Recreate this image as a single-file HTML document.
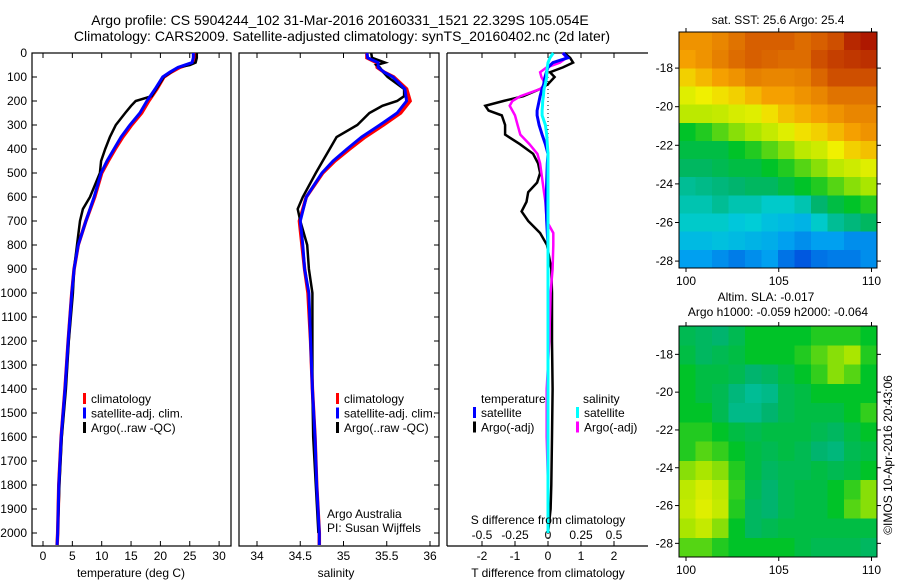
<!DOCTYPE html>
<html><head><meta charset="utf-8">
<style>
html,body{margin:0;padding:0;background:#fff;}
svg{display:block;font-family:"Liberation Sans",sans-serif;}
text{fill:#000;}
</style></head>
<body>
<svg id="c" width="900" height="580" viewBox="0 0 900 580" xmlns="http://www.w3.org/2000/svg">
<text x="340" y="25" font-size="14" text-anchor="middle">Argo profile: CS 5904244_102 31-Mar-2016 20160331_1521 22.329S 105.054E</text>
<text x="342" y="41" font-size="14" text-anchor="middle">Climatology: CARS2009. Satellite-adjusted climatology: synTS_20160402.nc (2d later)</text>
<text x="778" y="24" font-size="12" text-anchor="middle">sat. SST: 25.6 Argo: 25.4</text>
<text x="766" y="301" font-size="12" text-anchor="middle">Altim. SLA: -0.017</text>
<text x="778" y="316" font-size="12" text-anchor="middle">Argo h1000: -0.059 h2000: -0.064</text>
<text transform="translate(892,455) rotate(-90)" font-size="12" text-anchor="middle">©IMOS 10-Apr-2016 20:43:06</text>
<g id="g"></g>
</svg>
<script>
// ---- profile data ----
const depthClim = [0,20,40,60,80,100,150,200,250,300,350,400,450,500,600,700,800,900,1000,1200,1400,1600,1800,2000,2050];
const tempClim  = [25.9,25.9,25.6,23.3,21.8,20.6,19.4,18.0,16.8,15.1,13.6,12.3,11.1,10.0,8.8,7.3,6.0,5.3,4.9,4.3,3.75,3.1,2.7,2.5,2.4];
const tempSat   = [25.6,25.6,25.4,23.0,21.6,20.4,19.1,17.7,16.5,14.8,13.3,12.1,10.9,9.9,8.7,7.3,6.0,5.3,4.9,4.3,3.75,3.1,2.7,2.5,2.4];
const salClim   = [35.27,35.27,35.38,35.39,35.47,35.58,35.73,35.77,35.66,35.46,35.25,35.07,34.90,34.76,34.57,34.49,34.52,34.55,34.59,34.62,34.64,34.67,34.69,34.72,34.72];
const salSat    = [35.27,35.28,35.40,35.40,35.47,35.57,35.71,35.73,35.62,35.42,35.21,35.04,34.88,34.75,34.57,34.50,34.53,34.55,34.60,34.62,34.64,34.67,34.69,34.72,34.72];
const depthArgo = [0,20,40,50,60,80,100,150,180,200,220,250,300,350,400,450,500,600,650,700,800,900,1000,1200,1400,1600,1800,2000];
const tempArgo  = [26.2,26.2,26.0,25.0,23.0,21.8,20.6,19.3,18.5,15.8,15.0,14.0,12.4,11.4,10.6,9.9,9.7,8.0,6.8,6.3,5.8,5.3,5.1,4.4,3.9,3.2,2.8,2.5];
const salArgo   = [35.32,35.33,35.48,35.38,35.42,35.46,35.51,35.70,35.70,35.62,35.45,35.30,35.16,34.92,34.84,34.76,34.68,34.53,34.47,34.50,34.58,34.60,34.64,34.64,34.64,34.65,34.68,34.71];
// ---- difference data ----
const depthDiff = [0,20,40,60,80,100,130,150,180,200,220,240,260,300,340,380,420,460,500,540,580,620,660,700,750,800,900,1000,1200,1400,1600,1800,1900,2000];
const dTArgo = [0.5,0.67,0.76,0.45,0.06,0.2,0,-0.24,-0.75,-1.35,-1.9,-1.8,-1.4,-1.3,-1.3,-0.85,-0.45,-0.3,-0.24,-0.33,-0.6,-0.65,-0.8,-0.6,-0.24,-0.03,0.1,0.12,0.12,0.14,0.12,0.1,0.08,0.0];
const dSArgo = [0.11,0.14,0.09,-0.01,-0.06,-0.05,-0.02,-0.06,-0.21,-0.27,-0.29,-0.27,-0.25,-0.23,-0.21,-0.14,-0.08,-0.06,-0.05,-0.04,-0.03,-0.02,-0.015,-0.01,0.04,0.04,0.035,0.02,0.01,-0.01,-0.01,0.0,0.0,0.0];
const dTSat  = [0.45,0.6,0.15,0,-0.05,-0.09,-0.13,-0.18,-0.24,-0.27,-0.3,-0.33,-0.33,-0.27,-0.18,-0.08,0,-0.02,-0.03,-0.04,-0.05,-0.06,-0.05,-0.04,-0.02,0,0,0,0,0,0,0,0,0];
const dSSat  = [0.04,0.015,0.0,-0.005,-0.01,-0.01,-0.02,-0.03,-0.035,-0.04,-0.042,-0.045,-0.045,-0.02,-0.01,-0.005,0,0,0,0,0,0,0,0,0,0,0,0,0,0,0,0,0,0];
// ---- tick labels ----
const depthTicks = [0,100,200,300,400,500,600,700,800,900,1000,1100,1200,1300,1400,1500,1600,1700,1800,1900,2000];
const tempTicks = [0,5,10,15,20,25,30];
const salTicks = [34,34.5,35,35.5,36];
const dTTicks = [-2,-1,0,1,2];
const dSTicks = [-0.5,-0.25,0,0.25,0.5];
const dSLabels = ["-0.5","-0.25","0","0.25","0.5"];
const latTicks = [-18,-20,-22,-24,-26,-28];
const lonTicks = [100,105,110];
// ---- map data (colour index 0..1) ----
const sstGrid = [
[.80,.80,.82,.85,.88,.88,.88,.86,.88,.90,.95,.97],
[.78,.80,.83,.86,.88,.87,.86,.86,.90,.92,.93,.94],
[.72,.75,.78,.80,.83,.82,.82,.83,.87,.90,.90,.90],
[.66,.68,.70,.72,.75,.78,.78,.80,.82,.85,.85,.85],
[.62,.62,.63,.65,.66,.70,.74,.76,.78,.80,.82,.82],
[.50,.52,.55,.58,.60,.63,.66,.70,.72,.75,.78,.80],
[.48,.48,.48,.50,.52,.55,.58,.62,.64,.68,.72,.74],
[.46,.46,.47,.48,.48,.50,.52,.55,.58,.62,.64,.66],
[.42,.43,.44,.45,.46,.46,.48,.50,.52,.55,.58,.60],
[.40,.40,.42,.40,.40,.38,.38,.40,.45,.48,.50,.52],
[.38,.38,.38,.36,.37,.35,.34,.33,.38,.42,.44,.46],
[.34,.34,.35,.34,.33,.32,.30,.28,.30,.30,.28,.28],
[.30,.30,.28,.26,.28,.30,.25,.22,.25,.26,.26,.28]];
const slaGrid = [
[.47,.46,.45,.47,.50,.50,.50,.50,.52,.52,.52,.50],
[.48,.46,.47,.48,.50,.50,.50,.52,.55,.58,.60,.52],
[.50,.48,.48,.47,.45,.46,.48,.50,.53,.58,.55,.50],
[.50,.48,.47,.44,.42,.43,.47,.48,.50,.50,.50,.50],
[.50,.50,.47,.43,.43,.45,.47,.48,.48,.48,.50,.53],
[.52,.52,.50,.48,.47,.48,.48,.48,.47,.46,.48,.50],
[.52,.55,.53,.50,.48,.47,.48,.47,.45,.44,.47,.48],
[.58,.60,.58,.52,.48,.46,.47,.47,.48,.47,.48,.50],
[.62,.65,.62,.53,.47,.45,.47,.48,.48,.50,.53,.58],
[.63,.66,.63,.52,.46,.45,.47,.48,.48,.50,.55,.58],
[.60,.63,.58,.50,.46,.47,.48,.48,.48,.48,.48,.48],
[.55,.55,.52,.50,.50,.50,.50,.48,.47,.47,.47,.46]];

const NS="http://www.w3.org/2000/svg";
const G=document.getElementById('g');
function mk(tag,attrs,parent){const e=document.createElementNS(NS,tag);for(const k in attrs)e.setAttribute(k,attrs[k]);(parent||G).appendChild(e);return e;}
function txt(x,y,s,anchor,size,parent){const t=mk('text',{x:x,y:y,'font-size':size||12,'text-anchor':anchor||'start'},parent);t.textContent=s;return t;}

const Y0=53,YS=0.24;
const yD=d=>Y0+d*YS;
const xT=v=>43+v*5.87;
const xS=v=>257+(v-34)*86.5;
const xDT=v=>548+v*33;
const xDS=v=>548+v*132;

function frame(x0,x1,name){
  const r=mk('rect',{x:x0,y:Y0,width:x1-x0,height:546-Y0,fill:'none',stroke:'#000','stroke-width':1.2});
  
  
}
function line(xs,ds,fx,color,w,name){
  const p=xs.map((v,i)=>fx(v).toFixed(1)+','+yD(ds[i]).toFixed(1)).join(' ');
  const e=mk('polyline',{points:p,fill:'none',stroke:color,'stroke-width':w,'stroke-linejoin':'miter'});
  
  
}
function xticks(ticks,fx,labels,ly){
  ticks.forEach((t,i)=>{const x=fx(t);
    mk('line',{x1:x,x2:x,y1:546,y2:541,stroke:'#000'});
    mk('line',{x1:x,x2:x,y1:Y0,y2:Y0+5,stroke:'#000'});
    if(labels){const l=txt(x,ly,labels[i],'middle',12);
      
      }
  });
}
function legend(x,y,items){
  items.forEach((it,i)=>{
    mk('rect',{x:x,y:y+i*14.5-10,width:3,height:11,fill:it[1]});
    const t=txt(x+8,y+i*14.5,it[0],'start',12);
    
    
  });
}

// panel 1
frame(32,231,'temperature-panel');
depthTicks.forEach(d=>{mk('line',{x1:32,x2:37,y1:yD(d),y2:yD(d),stroke:'#000'});
  const l=txt(27,yD(d)+4,String(d),'end',12);
  
  });
xticks(tempTicks,xT,tempTicks.map(String),560);
line(tempClim,depthClim,xT,'#f00',3.5,'temp-climatology-line');
line(tempArgo,depthArgo,xT,'#000',2.5,'temp-argo-line');
line(tempSat,depthClim,xT,'#00f',3,'temp-satellite-line');
txt(131,577,'temperature (deg C)','middle',12);
legend(83,403,[['climatology','#f00'],['satellite-adj. clim.','#00f'],['Argo(..raw -QC)','#000']]);

// panel 2
frame(239,439,'salinity-panel');
depthTicks.forEach(d=>{mk('line',{x1:439,x2:434,y1:yD(d),y2:yD(d),stroke:'#000'});});
xticks(salTicks,xS,salTicks.map(String),560);
line(salClim,depthClim,xS,'#f00',3.5,'sal-climatology-line');
line(salArgo,depthArgo,xS,'#000',2.5,'sal-argo-line');
line(salSat,depthClim,xS,'#00f',3,'sal-satellite-line');
txt(336,577,'salinity','middle',12);
legend(336,403,[['climatology','#f00'],['satellite-adj. clim.','#00f'],['Argo(..raw -QC)','#000']]);
txt(327,518,'Argo Australia','start',12);
txt(327,532,'PI: Susan Wijffels','start',12);

// panel 3
mk('line',{x1:447,x2:447,y1:Y0,y2:546,stroke:'#000','stroke-width':1.2});
mk('line',{x1:447,x2:648,y1:546,y2:546,stroke:'#000','stroke-width':1.2});
mk('line',{x1:447,x2:648,y1:Y0,y2:Y0,stroke:'#000','stroke-width':1.2});
dTTicks.forEach(t=>{const x=xDT(t);mk('line',{x1:x,x2:x,y1:Y0,y2:Y0+5,stroke:'#000'});mk('line',{x1:x,x2:x,y1:546,y2:541,stroke:'#000'});
  const l=txt(x,560,String(t),'middle',12);});
dSTicks.forEach((t,i)=>{const l=txt(xDS(t),539,dSLabels[i],'middle',12);});
mk('line',{x1:548,x2:548,y1:Y0,y2:546,stroke:'#000','stroke-dasharray':'1,3'});
line(dTArgo,depthDiff,xDT,'#000',2.5,'dT-argo-line');
line(dSArgo,depthDiff,xDS,'#f0f',2.5,'dS-argo-line');
line(dTSat,depthDiff,xDT,'#00f',3,'dT-satellite-line');
line(dSSat,depthDiff,xDS,'#0ff',3,'dS-satellite-line');
txt(548,524,'S difference from climatology','middle',12);
txt(548,577,'T difference from climatology','middle',12);
txt(481,403,'temperature','start',12);
legend(473,417,[['satellite','#00f'],['Argo(-adj)','#000']]);
txt(583,403,'salinity','start',12);
legend(576,417,[['satellite','#0ff'],['Argo(-adj)','#f0f']]);

// maps
const stops=[[0.2,[0,70,220]],[0.3,[0,160,240]],[0.37,[0,205,215]],[0.45,[0,180,110]],[0.5,[0,195,40]],[0.6,[170,230,0]],[0.68,[240,240,0]],[0.78,[245,160,0]],[0.88,[215,95,0]],[1.0,[160,0,0]]];
function cmap(v){if(v<=stops[0][0])return 'rgb('+stops[0][1]+')';
  for(let i=1;i<stops.length;i++){if(v<=stops[i][0]){const a=stops[i-1],b=stops[i],f=(v-a[0])/(b[0]-a[0]);
    return 'rgb('+a[1].map((c,k)=>Math.round(c+(b[1][k]-c)*f)).join(',')+')';}}
  return 'rgb('+stops[stops.length-1][1]+')';}
function map(grid,x0,x1,y0,y1,latTop,pxDeg,name){
  const rows=grid.length,cols=grid[0].length,cw=(x1-x0)/cols,ch=(y1-y0)/rows;
  const g=mk('g',{'shape-rendering':'crispEdges'});
  
  
  grid.forEach((row,r)=>row.forEach((v,c)=>{
    const cell=mk('rect',{x:(x0+c*cw).toFixed(1),y:(y0+r*ch).toFixed(1),width:(cw+0.6).toFixed(1),height:(ch+0.6).toFixed(1),fill:cmap(v)},g);
    
    
  }));
  mk('rect',{x:x0,y:y0,width:x1-x0,height:y1-y0,fill:'none',stroke:'#000','stroke-width':1});
  const xL=lon=>686+(lon-100)*18.55;
  latTicks.forEach(l=>{const y=y0+(latTop-l)*pxDeg;
    mk('line',{x1:x0-4,x2:x0,y1:y,y2:y,stroke:'#000'});mk('line',{x1:x1,x2:x1+4,y1:y,y2:y,stroke:'#000'});
    const t=txt(673,y+4,String(l),'end',12);});
  lonTicks.forEach(l=>{const x=xL(l);
    mk('line',{x1:x,x2:x,y1:y1,y2:y1+4,stroke:'#000'});mk('line',{x1:x,x2:x,y1:y0-4,y2:y0,stroke:'#000'});
    const t=txt(x,y1+17,String(l),'middle',12);});
}
map(sstGrid,679,877,32,268,-16.13,19.3,'sst-map');
map(slaGrid,679,877,326,557,-16.5,18.9,'sla-map');
</script>
</body></html>
